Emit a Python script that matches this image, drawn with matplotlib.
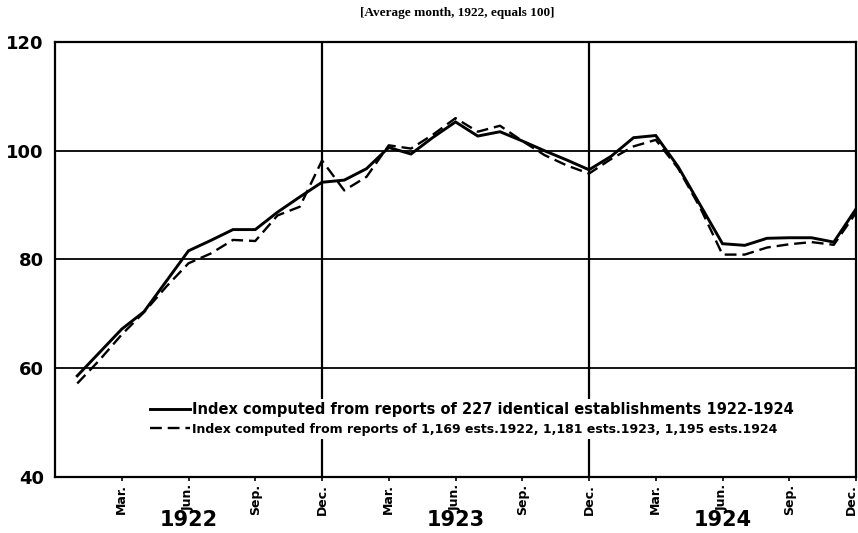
import matplotlib
matplotlib.use('Agg')
import matplotlib.pyplot as plt
from matplotlib.transforms import ScaledTranslation

# Monthly index values, Jan 1922 .. Dec 1924 (average month 1922 = 100)
months = list(range(1, 37))

identical_227 = [58.6, 62.9, 67.2, 70.4, 76.0, 81.6, 83.5, 85.5, 85.5, 88.7, 91.5, 94.2,
                 94.6, 96.7, 100.6, 99.4, 102.5, 105.3, 102.7, 103.5, 101.8, 100.0, 98.3, 96.5,
                 99.0, 102.4, 102.8, 97.1, 90.0, 82.9, 82.6, 83.9, 84.0, 84.0, 83.2, 89.3]

all_reports = [57.2, 61.5, 66.2, 70.3, 75.0, 79.3, 81.1, 83.6, 83.4, 88.1, 89.7, 98.2,
               92.7, 95.2, 101.0, 100.4, 103.0, 106.0, 103.5, 104.6, 101.8, 99.2, 97.3, 95.8,
               98.5, 100.8, 102.0, 96.8, 89.5, 80.9, 80.9, 82.2, 82.8, 83.2, 82.7, 88.6]

tick_months = list(range(3, 37, 3))
tick_labels = ['Mar.', 'Jun.', 'Sep.', 'Dec.'] * 3
years = ['1922', '1923', '1924']
year_centers = [6, 18, 30]

label_solid = 'Index computed from reports of 227 identical establishments 1922-1924'
label_dashed = 'Index computed from reports of 1,169 ests.1922, 1,181 ests.1923, 1,195 ests.1924'

fig = plt.figure(figsize=(8.58, 5.33), dpi=100)
ax = fig.add_axes([0.0641, 0.1051, 0.9336, 0.8161])

# grid: horizontal rules and the December year dividers
for y in [60, 80, 100]:
    ax.axhline(y, color='black', lw=1.3, zorder=1)
for x in [12, 24]:
    ax.axvline(x, color='black', lw=1.6, zorder=1)

ax.plot(months, identical_227, color='black', lw=2.1, solid_joinstyle='miter',
        label=label_solid, zorder=3)
ax.plot(months, all_reports, color='black', lw=1.7, dashes=(5, 2.5),
        label=label_dashed, zorder=3)

ax.set_xlim(0, 36)
ax.set_ylim(40, 120)
ax.set_yticks([40, 60, 80, 100, 120])
ax.tick_params(axis='y', length=0, pad=8, labelsize=13)
for t in ax.get_yticklabels():
    t.set_fontweight('bold')

ax.set_xticks(tick_months)
ax.set_xticklabels(tick_labels, rotation=90, fontsize=9, fontweight='bold')
ax.tick_params(axis='x', length=3, width=1.2, pad=2)
# last "Dec." sits against the right edge
last = ax.get_xticklabels()[-1]
last.set_transform(last.get_transform() + ScaledTranslation(-5 / 100, 0, fig.dpi_scale_trans))

for s in ax.spines.values():
    s.set_linewidth(1.6)

for yr, c in zip(years, year_centers):
    ax.text(c, -0.099, yr, transform=ax.get_xaxis_transform(), ha='center', va='center',
            fontsize=15, fontweight='bold')

fig.text(0.533, 0.975, '[Average month, 1922, equals 100]', ha='center', va='center',
         fontsize=9.5, fontweight='bold', family='Liberation Serif')

leg = ax.legend(loc='lower left', bbox_to_anchor=(0.106, 0.072), frameon=True,
                fancybox=False, borderpad=0.2, handlelength=2.9, handletextpad=0.15,
                labelspacing=0.45, prop={'size': 10, 'weight': 'bold'})
leg.get_frame().set_facecolor('white')
leg.get_frame().set_edgecolor('none')
leg.get_frame().set_alpha(1)
leg.get_texts()[0].set_fontsize(10.5)
leg.get_texts()[1].set_fontsize(9)

fig.savefig('out.png', dpi=100)
